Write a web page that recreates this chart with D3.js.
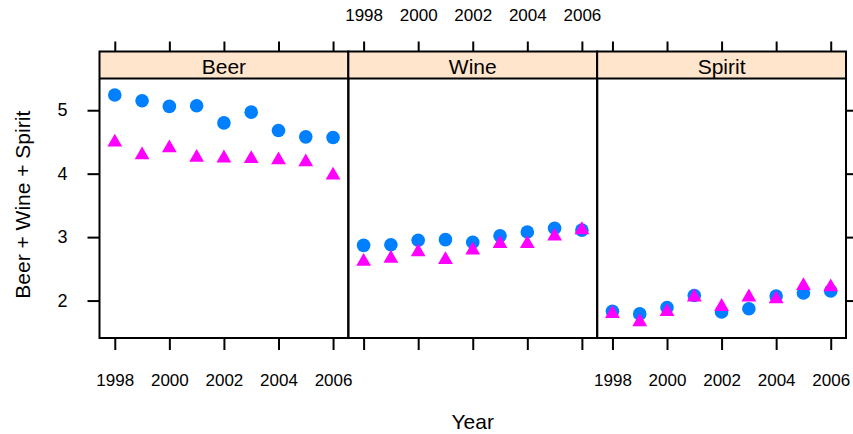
<!DOCTYPE html>
<html><head><meta charset="utf-8">
<script src="https://cdn.jsdelivr.net/npm/d3@7"></script>
<style>body{margin:0;background:#fff}svg{display:block}text{font-family:"Liberation Sans",Arial,sans-serif}</style>
</head><body><svg id="c" width="853" height="434"></svg>
<script>
const years = [1998,1999,2000,2001,2002,2003,2004,2005,2006];
const panels = ["Beer","Wine","Spirit"];
const xTicks = [1998,2000,2002,2004,2006];
const yTicks = [2,3,4,5];
// series A (blue circles), series B (magenta triangles)
const beerA   = [5.24,5.15,5.06,5.07,4.80,4.97,4.68,4.58,4.57];
const beerB   = [4.51,4.31,4.42,4.27,4.26,4.25,4.23,4.20,3.99];
const wineA   = [2.87,2.88,2.95,2.96,2.92,3.02,3.08,3.14,3.11];
const wineB   = [2.63,2.68,2.78,2.66,2.81,2.91,2.91,3.03,3.13];
const spiritA = [1.83,1.79,1.89,2.08,1.82,1.87,2.07,2.12,2.15];
const spiritB = [1.81,1.68,1.84,2.07,1.92,2.07,2.04,2.25,2.23];
const seriesA = [beerA, wineA, spiritA];
const seriesB = [beerB, wineB, spiritB];

const svg = d3.select("#c");
const left = 99.5, right = 846, stripTop = 51.5, stripBot = 78.5, bottom = 338;
const pw = (right-left)/3;
const y = d3.scaleLinear().domain([1.41,5.5]).range([bottom, stripBot]);
const FONT = '"Liberation Sans",Arial,sans-serif';

panels.forEach((name, i) => {
  const x0 = left + i*pw;
  const x = d3.scaleLinear().domain([1998-0.56, 2006+0.56]).range([x0, x0+pw]);
  const g = svg.append("g");
  g.append("rect").attr("x", x0).attr("y", stripTop).attr("width", pw).attr("height", stripBot-stripTop)
    .attr("fill", "#ffe5cc");
  g.append("text").attr("x", x0+pw/2).attr("y", (stripTop+stripBot)/2 + 1).attr("dy","0.36em")
    .attr("text-anchor","middle").attr("font-size", 21).text(name);
  g.selectAll("circle").data(years).join("circle")
    .attr("cx", (d)=>x(d)).attr("cy", (d,j)=>y(seriesA[i][j])).attr("r", 6.8).attr("fill", "#0080ff");
  const tri = d3.symbol().type(d3.symbolTriangle).size(95);
  g.selectAll("path.tri").data(years).join("path").attr("class","tri")
    .attr("d", tri).attr("transform", (d,j)=>`translate(${x(d)},${y(seriesB[i][j])+1})`).attr("fill", "#ff00ff");
  g.append("line").attr("x1", x0).attr("x2", x0+pw).attr("y1", stripBot).attr("y2", stripBot)
    .attr("stroke","#000").attr("stroke-width",2);
  g.append("rect").attr("x", x0).attr("y", stripTop).attr("width", pw).attr("height", bottom-stripTop)
    .attr("fill","none").attr("stroke","#000").attr("stroke-width",2);
  const topAx = d3.axisTop(x).tickValues(xTicks).tickSize(10).tickFormat(d3.format("d"));
  const botAx = d3.axisBottom(x).tickValues(xTicks).tickSize(12).tickFormat(d3.format("d"));
  const ta = g.append("g").attr("transform", `translate(0,${stripTop})`).call(topAx);
  const ba = g.append("g").attr("transform", `translate(0,${bottom})`).call(botAx);
  [ta, ba].forEach(a => {
    a.attr("font-family", FONT).attr("font-size", 17);
    a.select(".domain").remove();
    a.selectAll(".tick line").attr("stroke-width", 2);
    a.selectAll("text").attr("fill", "#000").attr("dy", "0.36em");
  });
  ta.selectAll("text").attr("y", 15 - stripTop);
  ba.selectAll("text").attr("y", 380 - bottom);
  if (i === 1) ba.selectAll("text").remove(); else ta.selectAll("text").remove();
});

const ya = svg.append("g").attr("transform", `translate(${left},0)`)
  .call(d3.axisLeft(y).tickValues(yTicks).tickSize(12).tickPadding(20).tickFormat(d3.format("d")));
ya.attr("font-family", FONT).attr("font-size", 18);
ya.select(".domain").remove();
ya.selectAll(".tick line").attr("stroke-width", 2);
ya.selectAll("text").attr("fill","#000");
const yr = svg.append("g").attr("transform", `translate(${right},0)`)
  .call(d3.axisRight(y).tickValues(yTicks).tickSize(12).tickFormat(""));
yr.select(".domain").remove();
yr.selectAll(".tick line").attr("stroke-width", 2);

svg.append("text").attr("transform", `translate(22,${(stripTop+bottom)/2 + 10}) rotate(-90)`)
  .attr("dy","0.36em").attr("text-anchor","middle").attr("font-size", 21).text("Beer + Wine + Spirit");
svg.append("text").attr("x", (left+right)/2).attr("y", 421).attr("dy","0.36em")
  .attr("text-anchor","middle").attr("font-size", 21).text("Year");
</script></body></html>
